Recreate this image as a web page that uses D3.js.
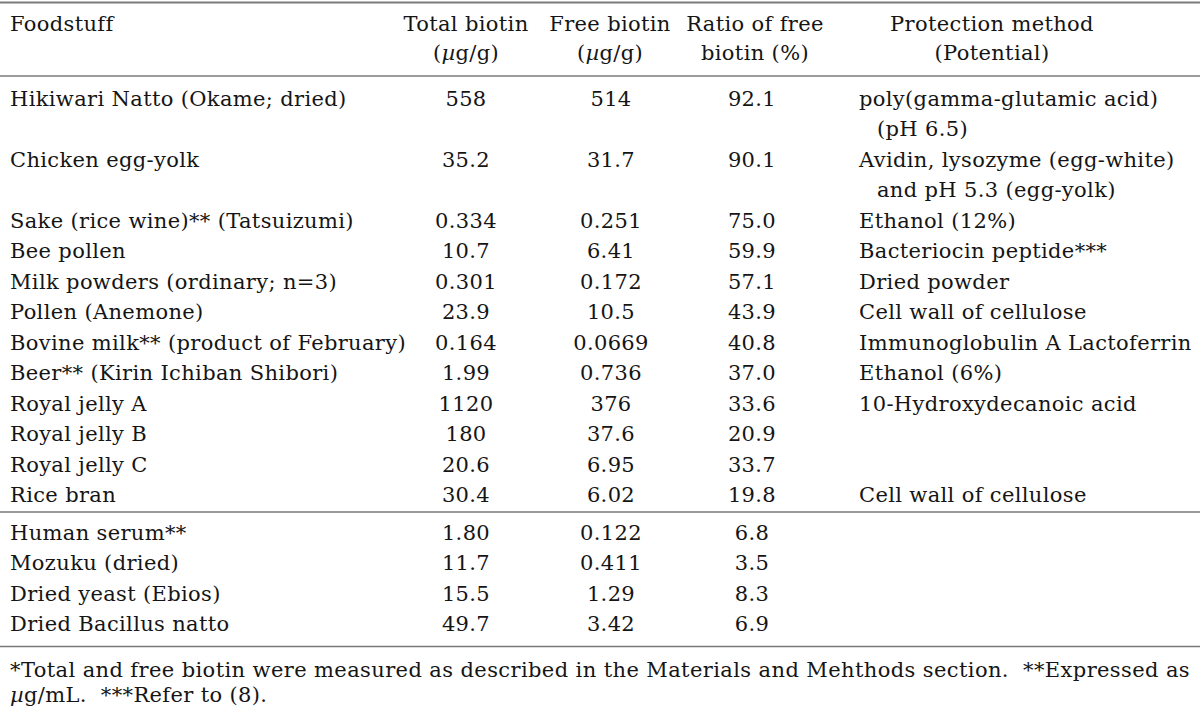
<!DOCTYPE html>
<html>
<head>
<meta charset="utf-8">
<script src="https://cdn.jsdelivr.net/npm/d3@7"></script>
<style>
  body { margin: 0; background: #fff; }
</style>
</head>
<body>
<div id="chart"></div>
<script>
const foods = [
  "Hikiwari Natto (Okame; dried)",
  "Chicken egg-yolk",
  "Sake (rice wine)** (Tatsuizumi)",
  "Bee pollen",
  "Milk powders (ordinary; n=3)",
  "Pollen (Anemone)",
  "Bovine milk** (product of February)",
  "Beer** (Kirin Ichiban Shibori)",
  "Royal jelly A",
  "Royal jelly B",
  "Royal jelly C",
  "Rice bran",
  "Human serum**",
  "Mozuku (dried)",
  "Dried yeast (Ebios)",
  "Dried Bacillus natto"
];
const totalBiotin = ["558", "35.2", "0.334", "10.7", "0.301", "23.9", "0.164", "1.99", "1120", "180", "20.6", "30.4", "1.80", "11.7", "15.5", "49.7"];
const freeBiotin = ["514", "31.7", "0.251", "6.41", "0.172", "10.5", "0.0669", "0.736", "376", "37.6", "6.95", "6.02", "0.122", "0.411", "1.29", "3.42"];
const ratioFree = ["92.1", "90.1", "75.0", "59.9", "57.1", "43.9", "40.8", "37.0", "33.6", "20.9", "33.7", "19.8", "6.8", "3.5", "8.3", "6.9"];
const protection = [
  ["poly(gamma-glutamic acid)", "(pH 6.5)"],
  ["Avidin, lysozyme (egg-white)", "and pH 5.3 (egg-yolk)"],
  ["Ethanol (12%)"],
  ["Bacteriocin peptide***"],
  ["Dried powder"],
  ["Cell wall of cellulose"],
  ["Immunoglobulin A Lactoferrin"],
  ["Ethanol (6%)"],
  ["10-Hydroxydecanoic acid"],
  [], [],
  ["Cell wall of cellulose"],
  [], [], [], []
];
const block = [0, 0, 0, 0, 0, 0, 0, 0, 0, 0, 0, 0, 1, 1, 1, 1];

const columns = ["food", "total", "free", "ratio", "protect"];
const headers = [
  ["Foodstuff"],
  ["Total biotin", "(µg/g)"],
  ["Free biotin", "(µg/g)"],
  ["Ratio of free", "biotin (%)"],
  ["Protection method", "(Potential)"]
];
const footnotes = [
  "*Total and free biotin were measured as described in the Materials and Mehthods section.  **Expressed as",
  "µg/mL.  ***Refer to (8)."
];

const width = 1200;
const height = 712;
const fontSize = 21;
const capShift = 7.6;
const ink = "#151515";
const ruleColor = "#7a7a7a";

const svg = d3.select("#chart")
  .append("svg")
  .attr("width", width)
  .attr("height", height)
  .style("font-family", "'DejaVu Serif', serif")
  .style("font-size", fontSize + "px")
  .style("letter-spacing", "0.35px")
  .attr("fill", ink);

// column anchors
const colX = d3.scaleOrdinal().domain(columns).range([10, 466, 611, 752, 859]);
const colAnchor = d3.scaleOrdinal().domain(columns).range(["start", "middle", "middle", "middle", "start"]);
const headX = d3.scaleOrdinal().domain(columns).range([10, 466, 610, 755, 992]);
const headAnchor = d3.scaleOrdinal().domain(columns).range(["start", "middle", "middle", "middle", "middle"]);

// line index -> y of text centre
const lineY = d3.scaleLinear().domain([0, 1]).range([98, 128.5]);
const headY = d3.scaleLinear().domain([0, 1]).range([23, 52]);
const blockGap = 7;

// text with italic micro sign
function richText(sel, str) {
  str.split(/(µ)/).filter(s => s.length).forEach(part => {
    sel.append("tspan")
      .attr("font-style", part === "µ" ? "italic" : null)
      .text(part);
  });
}

// starting line for every row
const rowLines = protection.map(p => Math.max(1, p.length));
const rowStart = rowLines.map((n, i) => d3.sum(rowLines.slice(0, i)));
const rowCenter = (i, k = 0) => lineY(rowStart[i] + k) + block[i] * blockGap;

// rules
const lastLine = d3.sum(rowLines);
const rules = [
  { y: 2.5, w: 2 },
  { y: 76, w: 1.5 },
  { y: 512, w: 1.5 },
  { y: lineY(lastLine - 1) + blockGap + 23, w: 1.5 }
];
svg.selectAll("line.rule")
  .data(rules)
  .join("line")
  .attr("class", "rule")
  .attr("x1", 0)
  .attr("x2", width)
  .attr("y1", d => d.y)
  .attr("y2", d => d.y)
  .attr("stroke", ruleColor)
  .attr("stroke-width", d => d.w);

// header
headers.forEach((lines, c) => {
  lines.forEach((t, k) => {
    svg.append("text")
      .attr("x", headX(columns[c]))
      .attr("y", headY(k) + capShift)
      .attr("text-anchor", headAnchor(columns[c]))
      .call(richText, t);
  });
});

// body cells
const rows = foods.map((f, i) => ({
  i,
  cells: [[f], [totalBiotin[i]], [freeBiotin[i]], [ratioFree[i]], protection[i]]
}));

const rowG = svg.selectAll("g.row")
  .data(rows)
  .join("g")
  .attr("class", "row");

rowG.each(function (d) {
  const g = d3.select(this);
  d.cells.forEach((lines, c) => {
    lines.forEach((t, k) => {
      g.append("text")
        .attr("x", colX(columns[c]) + (c === 4 && k > 0 ? 18 : 0))
        .attr("y", rowCenter(d.i, k) + capShift)
        .attr("text-anchor", colAnchor(columns[c]))
        .text(t);
    });
  });
});

// footnotes
const footY = d3.scaleLinear().domain([0, 1]).range([rules[3].y + 23, rules[3].y + 48]);
footnotes.forEach((t, k) => {
  const txt = svg.append("text")
    .attr("x", 10)
    .attr("y", footY(k) + capShift)
    .attr("xml:space", "preserve")
    .style("white-space", "pre")
    .call(richText, t);
  if (k === 0) txt.attr("textLength", 1180).attr("lengthAdjust", "spacing");
});
</script>
</body>
</html>
